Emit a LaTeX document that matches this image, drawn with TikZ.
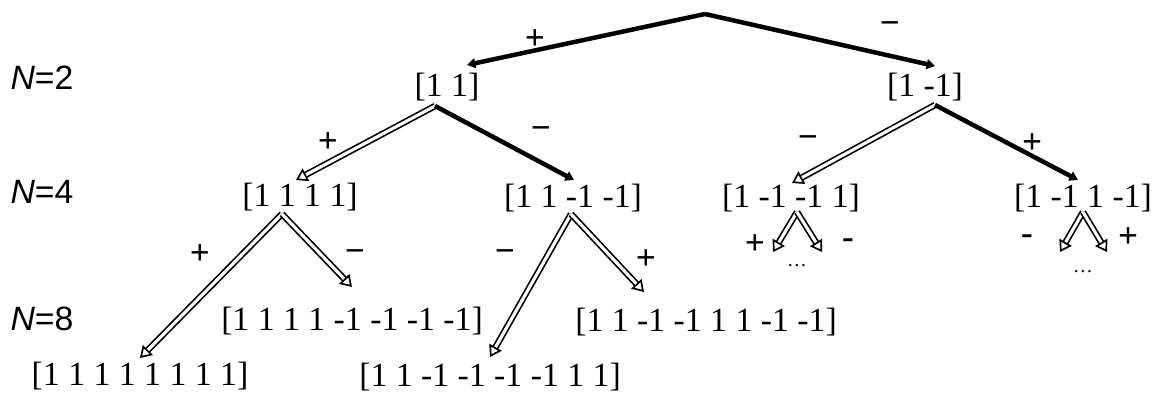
\documentclass[tikz,border=0pt]{standalone}
\usepackage{fontspec}
\setmainfont{Liberation Serif}
\setsansfont{Liberation Sans}
\usetikzlibrary{arrows.meta}
\tikzset{
  seq/.style={
    font=\fontsize{24}{28}\selectfont,
    inner sep=0pt
  },
  level label/.style={
    font=\sffamily\fontsize{24}{28}\selectfont,
    inner sep=0pt
  },
  sign/.style={
    font=\bfseries\fontsize{25}{28}\selectfont,
    inner sep=0pt
  },
  more/.style={
    font=\fontsize{14}{16}\selectfont,
    inner sep=0pt
  },
  solid branch/.style={
    line width=3.2pt,
    -{Triangle[length=6pt,width=7pt]}
  },
  double branch/.style={
    double,
    line width=1.2pt,
    double distance=2.2pt,
    -{Triangle[open,length=8pt,width=10pt]}
  }
}

\begin{document}
\begin{tikzpicture}[x=0.025cm,y=-0.025cm]
    \useasboundingbox[fill=white] (0,0) rectangle (1161,393);

    % ---------- 段のラベル ----------
    \node[level label] (N2) at (42,78) {\itshape N\upshape =2};
    \node[level label] (N4) at (42,192) {\itshape N\upshape =4};
    \node[level label] (N8) at (42,319) {\itshape N\upshape =8};

    % ---------- 系列 ----------
    \node[seq] (v11) at (447,87) {[1 1]};
    \node[seq] (v1m) at (925,87) {[1 -1]};

    \node[seq] (v1111) at (300,197) {[1 1 1 1]};
    \node[seq] (v11mm) at (573,198) {[1 1 -1 -1]};
    \node[seq] (v1mm1) at (791,198) {[1 -1 -1 1]};
    \node[seq] (v1m1m) at (1083,198) {[1 -1 1 -1]};

    \node[seq] (v8a) at (352,321) {[1 1 1 1 -1 -1 -1 -1]};
    \node[seq] (v8b) at (140,376) {[1 1 1 1 1 1 1 1]};
    \node[seq] (v8c) at (706,322) {[1 1 -1 -1 1 1 -1 -1]};
    \node[seq] (v8d) at (490,377) {[1 1 -1 -1 -1 -1 1 1]};

    \node[more] (dots1) at (797,266) {\dots};
    \node[more] (dots2) at (1083,272) {\dots};

    % ---------- 分岐点と矢の先 ----------
    \coordinate (root) at (705,14);
    \coordinate (v11-in) at (467,65);
    \coordinate (v1m-in) at (935,66);
    \coordinate (v11-out) at (435,106);
    \coordinate (v1m-out) at (935,105);
    \coordinate (v1111-in) at (296,180);
    \coordinate (v11mm-in) at (574,180);
    \coordinate (v1mm1-in) at (792,183);
    \coordinate (v1m1m-in) at (1078,180);
    \coordinate (v1111-out) at (282,214);
    \coordinate (v11mm-out) at (571,214);
    \coordinate (v1mm1-out) at (797,212);
    \coordinate (v1m1m-out) at (1083,212);
    \coordinate (v8a-in) at (352,287);
    \coordinate (v8b-in) at (140,358);
    \coordinate (v8c-in) at (644,292);
    \coordinate (v8d-in) at (490,357);
    \coordinate (dots1-l) at (773,252);
    \coordinate (dots1-r) at (822,252);
    \coordinate (dots2-l) at (1060,252);
    \coordinate (dots2-r) at (1107,252);

    % ---------- 枝 ----------
    \draw[solid branch] (root) -- (v11-in);
    \draw[solid branch] (root) -- (v1m-in);
    \draw[double branch] (v11-out) -- (v1111-in);
    \draw[solid branch] (v11-out) -- (v11mm-in);
    \draw[double branch] (v1m-out) -- (v1mm1-in);
    \draw[solid branch] (v1m-out) -- (v1m1m-in);

    \draw[double branch] (v1111-out) -- (v8b-in);
    \draw[double branch] (v1111-out) -- (v8a-in);
    \draw[double branch] (v11mm-out) -- (v8d-in);
    \draw[double branch] (v11mm-out) -- (v8c-in);
    \draw[double branch] (v1mm1-out) -- (dots1-l);
    \draw[double branch] (v1mm1-out) -- (dots1-r);
    \draw[double branch] (v1m1m-out) -- (dots2-l);
    \draw[double branch] (v1m1m-out) -- (dots2-r);

    % ---------- 符号 ----------
    \node[sign] (s1) at (535,40) {+};
    \node[sign] (s2) at (890,28) {−};
    \node[sign] (s3) at (328,143) {+};
    \node[sign] (s4) at (541,133) {−};
    \node[sign] (s5) at (808,142) {−};
    \node[sign] (s6) at (1032,144) {+};
    \node[sign] (s7) at (200,255) {+};
    \node[sign] (s8) at (355,256) {−};
    \node[sign] (s9) at (505,256) {−};
    \node[sign] (s10) at (646,260) {+};
    \node[sign] (s11) at (755,245) {+};
    \node[sign] (s12) at (848,244) {-};
    \node[sign] (s13) at (1027,240) {-};
    \node[sign] (s14) at (1128,238) {+};

  \end{tikzpicture}
\end{document}
